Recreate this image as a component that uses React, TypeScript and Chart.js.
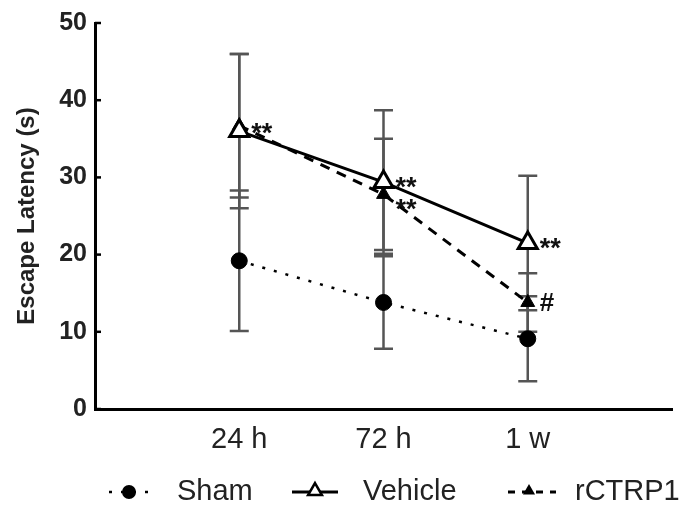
import React, { useEffect, useRef } from 'react';
import { Chart, registerables } from 'chart.js';

Chart.register(...registerables);

const categories = ['24 h', '72 h', '1 w'];
const xPositions = [1, 2, 3];
const yTickValues = [0, 10, 20, 30, 40, 50];
const seriesNames = ['Sham', 'Vehicle', 'rCTRP1'];
const shamMean = [19.2, 13.8, 9.1];
const shamSD = [9.1, 6.0, 5.5];
const vehicleMean = [36.0, 29.4, 21.5];
const vehicleSD = [10.0, 9.3, 8.7];
const rctrpMean = [36.7, 27.8, 13.8];
const rctrpSD = [9.3, 7.2, 3.8];
const vehicleMarks = ['**', '**', '**'];
const rctrpMarks = ['', '**', '#'];

const FONT = "'Liberation Sans', Arial, sans-serif";

function triangle(ctx: CanvasRenderingContext2D, cx: number, cy: number, r: number) {
  ctx.beginPath();
  for (let k = 0; k < 3; k++) {
    const a = (k * 2 * Math.PI) / 3;
    const px = cx + Math.sin(a) * r;
    const py = cy - Math.cos(a) * r;
    if (k === 0) ctx.moveTo(px, py);
    else ctx.lineTo(px, py);
  }
  ctx.closePath();
}

const errorBarPlugin = {
  id: 'errorBars',
  beforeDatasetsDraw(chart: any) {
    const { ctx, scales } = chart;
    const x = scales.x;
    const y = scales.y;
    const sets: [number[], number[]][] = [
      [shamMean, shamSD],
      [vehicleMean, vehicleSD],
      [rctrpMean, rctrpSD],
    ];
    ctx.save();
    ctx.strokeStyle = '#555';
    ctx.lineWidth = 2.5;
    sets.forEach(([m, s]) => {
      m.forEach((v, i) => {
        const px = x.getPixelForValue(xPositions[i]);
        const top = y.getPixelForValue(v + s[i]);
        const bot = y.getPixelForValue(v - s[i]);
        ctx.beginPath();
        ctx.moveTo(px, top);
        ctx.lineTo(px, bot);
        ctx.moveTo(px - 9.5, top);
        ctx.lineTo(px + 9.5, top);
        ctx.moveTo(px - 9.5, bot);
        ctx.lineTo(px + 9.5, bot);
        ctx.stroke();
      });
    });
    ctx.restore();
  },
};

const annotationPlugin = {
  id: 'annotations',
  afterDatasetsDraw(chart: any) {
    const { ctx, scales } = chart;
    const x = scales.x;
    const y = scales.y;
    ctx.save();
    ctx.fillStyle = '#111';
    const draw = (marks: string[], means: number[], dys: number[]) => {
      marks.forEach((mk, i) => {
        if (!mk) return;
        const px = x.getPixelForValue(xPositions[i]) + 12;
        const py = y.getPixelForValue(means[i]) + dys[i];
        if (mk === '#') {
          ctx.font = `bold 26px ${FONT}`;
          ctx.textBaseline = 'middle';
          ctx.fillText(mk, px, py + 1);
        } else {
          ctx.font = `bold 27px ${FONT}`;
          ctx.textBaseline = 'alphabetic';
          ctx.fillText(mk, px, py + 15);
        }
      });
    };
    draw(vehicleMarks, vehicleMean, [-4, -1, -1]);
    draw(rctrpMarks, rctrpMean, [0, 9, 0]);
    ctx.restore();
  },
};

const decorPlugin = {
  id: 'decor',
  afterDraw(chart: any) {
    const { ctx, scales, chartArea } = chart;
    const y = scales.y;
    ctx.save();
    // inward y ticks
    ctx.strokeStyle = '#000';
    ctx.lineWidth = 2.5;
    yTickValues.forEach((v) => {
      const py = y.getPixelForValue(v);
      ctx.beginPath();
      ctx.moveTo(chartArea.left, py);
      ctx.lineTo(chartArea.left + 6, py);
      ctx.stroke();
    });

    // legend
    const ly = 492;
    ctx.font = `29px ${FONT}`;
    ctx.textBaseline = 'middle';
    ctx.fillStyle = '#222';

    // Sham
    ctx.strokeStyle = '#000';
    ctx.lineWidth = 2.5;
    ctx.setLineDash([3, 9]);
    ctx.beginPath();
    ctx.moveTo(109, ly);
    ctx.lineTo(152, ly);
    ctx.stroke();
    ctx.setLineDash([]);
    ctx.fillStyle = '#000';
    ctx.beginPath();
    ctx.arc(129, ly, 7, 0, Math.PI * 2);
    ctx.fill();
    ctx.fillStyle = '#222';
    ctx.fillText(seriesNames[0], 177, ly);

    // Vehicle
    ctx.lineWidth = 3;
    ctx.beginPath();
    ctx.moveTo(292, ly);
    ctx.lineTo(338, ly);
    ctx.stroke();
    triangle(ctx, 315, ly - 1, 8);
    ctx.fillStyle = '#fff';
    ctx.fill();
    ctx.lineWidth = 2.5;
    ctx.stroke();
    ctx.fillStyle = '#222';
    ctx.fillText(seriesNames[1], 363, ly);

    // rCTRP1
    ctx.lineWidth = 3;
    ctx.setLineDash([7, 7]);
    ctx.beginPath();
    ctx.moveTo(508, ly);
    ctx.lineTo(556, ly);
    ctx.stroke();
    ctx.setLineDash([]);
    triangle(ctx, 529, ly - 1, 7);
    ctx.fillStyle = '#000';
    ctx.fill();
    ctx.fillStyle = '#222';
    ctx.fillText(seriesNames[2], 575, ly);

    ctx.restore();
  },
};

export default function App() {
  const ref = useRef<HTMLCanvasElement | null>(null);

  useEffect(() => {
    if (!ref.current) return;
    const mk = (means: number[]) => xPositions.map((xv, i) => ({ x: xv, y: means[i] }));
    const chart = new Chart(ref.current, {
      type: 'line',
      data: {
        datasets: [
          {
            label: seriesNames[0],
            data: mk(shamMean),
            borderColor: '#000',
            backgroundColor: '#000',
            borderWidth: 2.5,
            borderDash: [3, 9],
            pointStyle: 'circle',
            pointRadius: 8,
            pointBorderWidth: 1,
            pointBackgroundColor: '#000',
            pointBorderColor: '#000',
            tension: 0,
          },
          {
            label: seriesNames[1],
            data: mk(vehicleMean),
            borderColor: '#000',
            backgroundColor: '#fff',
            borderWidth: 3,
            pointStyle: 'triangle',
            pointRadius: 11,
            pointBorderWidth: 3,
            pointBackgroundColor: '#fff',
            pointBorderColor: '#000',
            tension: 0,
          },
          {
            label: seriesNames[2],
            data: mk(rctrpMean),
            borderColor: '#000',
            backgroundColor: '#000',
            borderWidth: 3,
            borderDash: [10, 8],
            pointStyle: 'triangle',
            pointRadius: 8,
            pointBorderWidth: 1,
            pointBackgroundColor: '#000',
            pointBorderColor: '#000',
            tension: 0,
          },
        ],
      },
      options: {
        animation: false,
        responsive: false,
        devicePixelRatio: 1,
        layout: { padding: { top: 20, right: 7, left: 0, bottom: 0 } },
        plugins: { legend: { display: false }, tooltip: { enabled: false } },
        scales: {
          x: {
            type: 'linear',
            min: 0,
            max: 4,
            afterFit: (s: any) => {
              s.height = 103;
            },
            afterBuildTicks: (s: any) => {
              s.ticks = xPositions.map((v) => ({ value: v }));
            },
            ticks: {
              callback: (v: any) => {
                const idx = xPositions.indexOf(Number(v));
                return idx >= 0 ? categories[idx] : '';
              },
              font: { family: FONT, size: 29 },
              color: '#222',
              padding: 14,
              autoSkip: false,
              maxRotation: 0,
            },
            grid: { drawOnChartArea: false, drawTicks: false },
            border: { color: '#000', width: 3 },
          },
          y: {
            min: 0,
            max: 50,
            afterFit: (s: any) => {
              s.width = 95;
            },
            afterBuildTicks: (s: any) => {
              s.ticks = yTickValues.map((v) => ({ value: v }));
            },
            ticks: {
              font: { family: FONT, size: 25, weight: 'bold' },
              color: '#222',
              padding: 8,
            },
            grid: { drawOnChartArea: false, drawTicks: false },
            border: { color: '#000', width: 3 },
            title: {
              display: true,
              text: 'Escape Latency (s)',
              font: { family: FONT, size: 24, weight: 'bold' },
              color: '#222',
              padding: { top: 13, bottom: 0 },
            },
          },
        },
      } as any,
      plugins: [errorBarPlugin, annotationPlugin, decorPlugin],
    });
    return () => chart.destroy();
  }, []);

  return (
    <div style={{ position: 'fixed', left: 0, top: 0, width: 686, height: 512, background: '#fff' }}>
      <canvas ref={ref} width={686} height={512} style={{ width: 686, height: 512, display: 'block' }} />
    </div>
  );
}
